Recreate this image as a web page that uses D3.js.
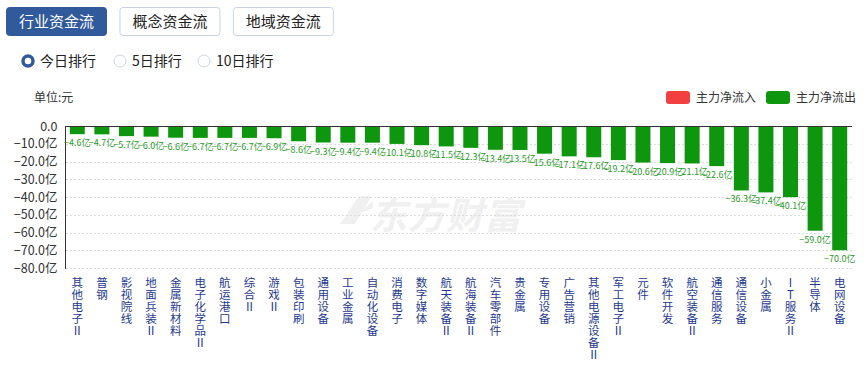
<!DOCTYPE html>
<html><head><meta charset="utf-8">
<script src="https://cdn.jsdelivr.net/npm/d3@7"></script>
<style>
body{margin:0;background:#fff;}
svg{display:block;font-family:"Microsoft YaHei","Noto Sans CJK SC",sans-serif;}
</style></head>
<body><svg id="c" width="868" height="366"></svg>
<script>
const categories = ["其他电子Ⅱ","普钢","影视院线","地面兵装Ⅱ","金属新材料","电子化学品Ⅱ","航运港口","综合Ⅱ","游戏Ⅱ","包装印刷","通用设备","工业金属","自动化设备","消费电子","数字媒体","航天装备Ⅱ","航海装备Ⅱ","汽车零部件","贵金属","专用设备","广告营销","其他电源设备Ⅱ","军工电子Ⅱ","元件","软件开发","航空装备Ⅱ","通信服务","通信设备","小金属","IT服务Ⅱ","半导体","电网设备"];
const values = [-4.6,-4.7,-5.7,-6.0,-6.6,-6.7,-6.7,-6.7,-6.9,-8.6,-9.3,-9.4,-9.4,-10.1,-10.8,-11.5,-12.3,-13.4,-13.5,-15.6,-17.1,-17.6,-19.2,-20.6,-20.9,-21.1,-22.6,-36.3,-37.4,-40.1,-59.0,-70.0];
const yTicks = [0,-10,-20,-30,-40,-50,-60,-70,-80];
const tabs = ["行业资金流","概念资金流","地域资金流"];
const radios = ["今日排行","5日排行","10日排行"];
const legendItems = ["主力净流入","主力净流出"];

const svg = d3.select("#c");
const blue = "#305a9c", green = "#0e960e";

// tabs
const tabX = d3.scaleBand().domain(tabs).range([6, 6 + 3*110]).paddingInner(10/110);
tabs.forEach((t,i)=>{
  const g = svg.append("g").attr("transform",`translate(${tabX(t)},7)`);
  g.append("rect").attr("x",0.5).attr("y",0.5).attr("width",100).attr("height",28).attr("rx",3)
    .attr("fill", i===0?blue:"#fff").attr("stroke", i===0?blue:"#c9d3e3");
  g.append("text").attr("x",50.5).attr("y",19.5).attr("text-anchor","middle")
    .attr("font-size",15).attr("fill", i===0?"#fff":"#222").text(t);
});

// radios
const radioX = [28,120,204];
radios.forEach((r,i)=>{
  const cx = radioX[i], cy = 61;
  if(i===0){
    svg.append("circle").attr("cx",cx).attr("cy",cy).attr("r",5).attr("fill","#fff").attr("stroke",blue).attr("stroke-width",3.5);
  } else {
    svg.append("circle").attr("cx",cx).attr("cy",cy).attr("r",6).attr("fill","#fff").attr("stroke","#cdd5e0");
  }
  svg.append("text").attr("x",cx+12).attr("y",cy+5).attr("font-size",14).attr("fill","#222").text(r);
});

svg.append("text").attr("x",34).attr("y",102).attr("font-size",12).attr("fill","#333").text("单位:元");

// legend
const legColors = ["#f23f3f", green];
const legX = [666, 766];
legendItems.forEach((l,i)=>{
  svg.append("rect").attr("x",legX[i]).attr("y",91).attr("width",24).attr("height",13).attr("rx",3).attr("fill",legColors[i]);
  svg.append("text").attr("x",legX[i]+30).attr("y",102).attr("font-size",12).attr("fill","#333").text(l);
});

// scales
const x = d3.scaleBand().domain(categories).range([65, 852]).paddingInner(0.39).paddingOuter(0.195);
const y = d3.scaleLinear().domain([0,-80]).range([126, 268]);

// watermark
const wm = svg.append("g");
wm.append("path").attr("d","M340,224 L359,196 L372,196 L355,224 Z M356,215 L373,201 L373,208 Z").attr("fill","#f0f0f0");
wm.append("text").attr("x",446).attr("y",229).attr("text-anchor","middle").attr("font-size",37)
  .attr("font-weight","bold").attr("font-style","italic").attr("fill","#f0f0f0").attr("letter-spacing",1).text("东方财富");

// gridlines
svg.append("g").selectAll("line").data(yTicks.slice(1)).join("line")
  .attr("x1",66).attr("x2",852).attr("y1",d=>Math.round(y(d))+0.5).attr("y2",d=>Math.round(y(d))+0.5)
  .attr("stroke","#dcdcdc").attr("stroke-dasharray","2,2");

// y axis
const yAxis = svg.append("g").attr("transform","translate(65.5,0)")
  .call(d3.axisLeft(y).tickValues(yTicks).tickSize(0).tickPadding(8)
    .tickFormat(d=> d===0 ? "0.0" : d3.format(".1f")(d)+"亿"));
yAxis.select(".domain").attr("stroke","#333").attr("d",`M0,${y(0)}V${y(-80)+1}`);
yAxis.selectAll("text").attr("font-size",12.5).attr("fill","#333").attr("font-family",'"Microsoft YaHei","Noto Sans CJK SC",sans-serif');

// bars
svg.append("g").selectAll("rect").data(values).join("rect")
  .attr("x",(d,i)=>x(categories[i])).attr("width",x.bandwidth())
  .attr("y",y(0)).attr("height",d=>y(d)-y(0)).attr("fill",green);

// zero line
svg.append("line").attr("x1",65).attr("x2",852).attr("y1",y(0)+0.5).attr("y2",y(0)+0.5).attr("stroke","#333");

// value labels
svg.append("g").selectAll("text").data(values).join("text")
  .attr("x",(d,i)=>x(categories[i])+x.bandwidth()/2).attr("y",d=>y(d)+12)
  .attr("text-anchor","middle").attr("font-size",9).attr("fill","#2a9a2a")
  .text(d=>d3.format(".1f")(d)+"亿");

// category labels (vertical, one glyph per row)
const cg = svg.append("g");
categories.forEach((c,i)=>{
  const cx = x(c)+x.bandwidth()/2;
  Array.from(c).forEach((ch,j)=>{
    cg.append("text").attr("x",cx).attr("y",287+j*12).attr("text-anchor","middle")
      .attr("font-size",11.5).attr("fill","#1f3a8f").text(ch);
  });
});
</script></body></html>
